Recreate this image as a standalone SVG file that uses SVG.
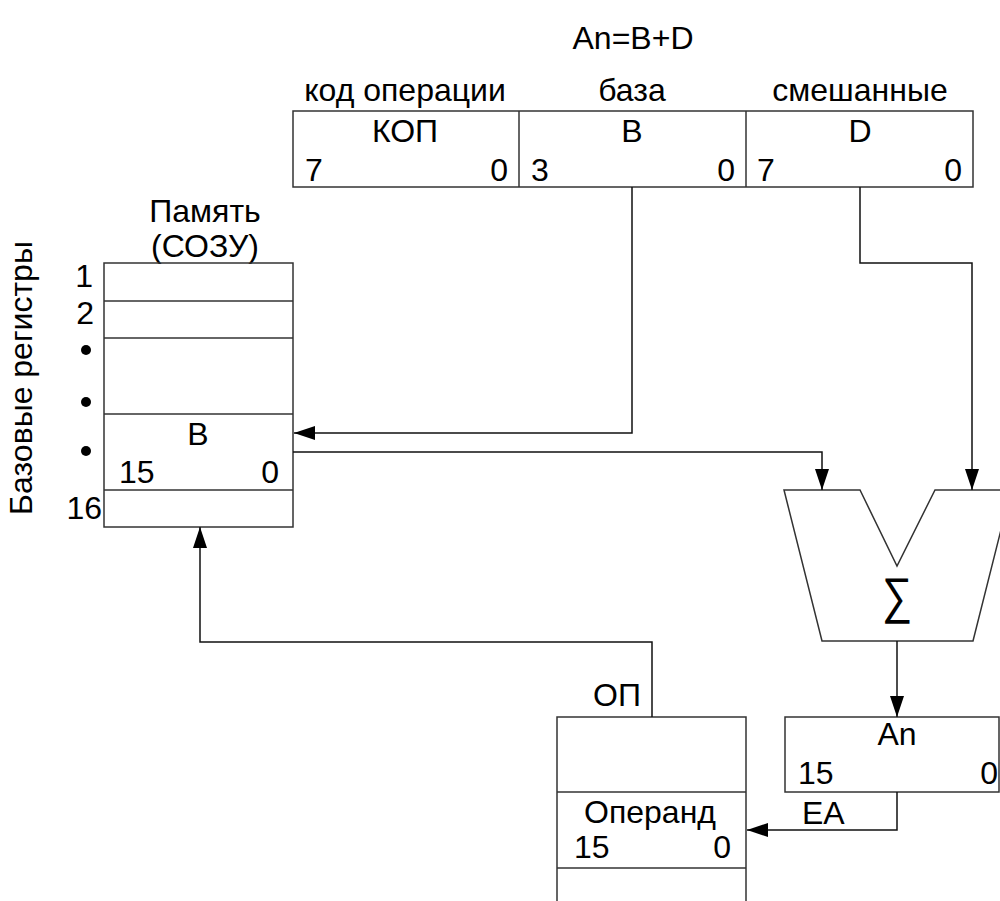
<svg xmlns="http://www.w3.org/2000/svg" width="1000" height="901" viewBox="0 0 1000 901">
<style>
text{font-family:"Liberation Sans",Arial,sans-serif;font-size:32px;fill:#000}
.m{text-anchor:middle}
.e{text-anchor:end}
.box{fill:none;stroke:#333;stroke-width:1.5}
.ln{fill:none;stroke:#111;stroke-width:1.5}
</style>
<defs>
<marker id="ah" viewBox="0 0 21 14" refX="21" refY="7" markerWidth="21" markerHeight="14" markerUnits="userSpaceOnUse" orient="auto">
<path d="M0,0 L21,7 L0,14 Z" fill="#000"/>
</marker>
</defs>
<rect width="1000" height="901" fill="#fff"/>

<text class="m" x="633" y="49">An=B+D</text>

<g id="instr">
<text class="m" x="405" y="101">код операции</text>
<text class="m" x="632" y="101">база</text>
<text class="m" x="860" y="101">смешанные</text>
<rect class="box" x="293" y="111" width="680" height="76"/>
<line class="box" x1="519" y1="111" x2="519" y2="187"/>
<line class="box" x1="746" y1="111" x2="746" y2="187"/>
<text class="m" x="405" y="142">КОП</text>
<text x="305" y="181">7</text>
<text class="e" x="508" y="181">0</text>
<text class="m" x="632" y="142">B</text>
<text x="531" y="181">3</text>
<text class="e" x="735" y="181">0</text>
<text class="m" x="860" y="142">D</text>
<text x="757" y="181">7</text>
<text class="e" x="962" y="181">0</text>
</g>

<g id="memory">
<text class="m" x="205" y="222">Память</text>
<text class="m" x="205" y="257">(СОЗУ)</text>
<rect class="box" x="104" y="263" width="189" height="264"/>
<line class="box" x1="104" y1="301" x2="293" y2="301"/>
<line class="box" x1="104" y1="338" x2="293" y2="338"/>
<line class="box" x1="104" y1="414" x2="293" y2="414"/>
<line class="box" x1="104" y1="490" x2="293" y2="490"/>
<text class="m" x="198" y="445">B</text>
<text x="119" y="483">15</text>
<text class="e" x="279" y="483">0</text>
<text class="e" x="93" y="287">1</text>
<text class="e" x="94" y="324">2</text>
<circle cx="86" cy="350" r="5"/>
<circle cx="86" cy="402" r="5"/>
<circle cx="86" cy="451" r="5"/>
<text class="e" x="102" y="519">16</text>
<text class="m" transform="translate(32,378) rotate(-90)" x="0" y="0">Базовые регистры</text>
</g>

<g id="adder">
<path class="box" d="M784,490 H860 L897,566 L935,490 H1011 L973,641 H822 Z"/>
<text class="m" transform="translate(897,613) scale(0.85,1)" x="0" y="0" style="font-size:50px">∑</text>
</g>

<g id="an">
<rect class="box" x="785" y="717" width="214" height="75"/>
<text class="m" x="897" y="745">An</text>
<text x="798" y="784">15</text>
<text class="e" x="998" y="784">0</text>
</g>

<g id="op">
<text class="e" x="641" y="706">ОП</text>
<path class="box" d="M557,905 V717 H746 V905"/>
<line class="box" x1="557" y1="792" x2="746" y2="792"/>
<line class="box" x1="557" y1="868" x2="746" y2="868"/>
<text class="m" x="650" y="823">Операнд</text>
<text x="574" y="858">15</text>
<text class="e" x="731" y="858">0</text>
</g>

<g id="connectors">
<polyline class="ln" points="632,187 632,433 294,433" marker-end="url(#ah)"/>
<polyline class="ln" points="860,187 860,263 972,263 972,490" marker-end="url(#ah)"/>
<polyline class="ln" points="293,452 822,452 822,490" marker-end="url(#ah)"/>
<polyline class="ln" points="897,641 897,717" marker-end="url(#ah)"/>
<polyline class="ln" points="897,792 897,830 747,830" marker-end="url(#ah)"/>
<polyline class="ln" points="652,717 652,642 200,642 200,527" marker-end="url(#ah)"/>
<text x="802" y="824">EA</text>
</g>
</svg>
